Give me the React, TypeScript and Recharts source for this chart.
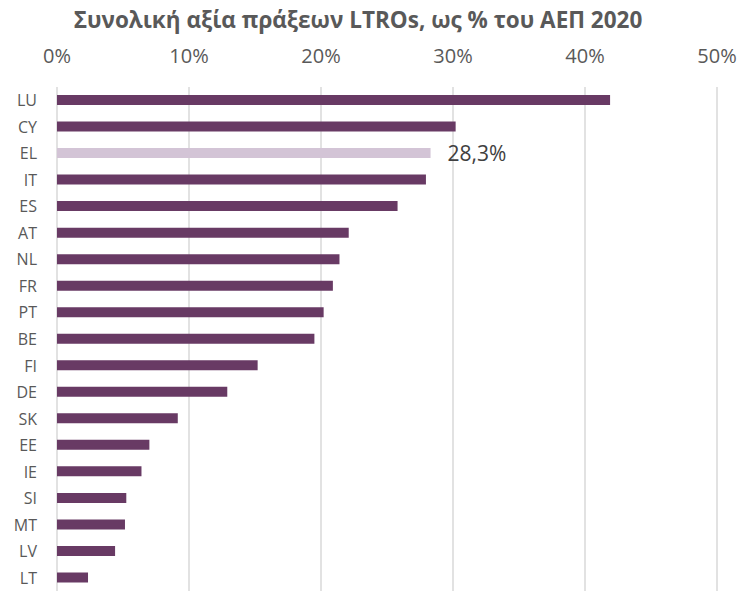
import { Bar, BarChart, CartesianGrid, Cell, LabelList, XAxis, YAxis } from "recharts"

const countries = ["LU", "CY", "EL", "IT", "ES", "AT", "NL", "FR", "PT", "BE", "FI", "DE", "SK", "EE", "IE", "SI", "MT", "LV", "LT"]
const ltroShare = [41.9, 30.2, 28.3, 27.95, 25.8, 22.1, 21.4, 20.9, 20.2, 19.5, 15.2, 12.9, 9.15, 7.0, 6.4, 5.25, 5.15, 4.4, 2.35]
const pctTicks = [0, 10, 20, 30, 40, 50]
const highlight = "EL"

const data = countries.map((country, i) => ({ country, value: ltroShare[i] }))

const textColor = "#595959"
const font = "'Open Sans', 'Noto Sans', sans-serif"

function TopTick(props: any) {
  const { x, y, payload } = props
  return (
    <text x={x} y={y} dy={-16} textAnchor="middle" fill={textColor} fontSize={20} fontFamily={font}>
      {payload.value}%
    </text>
  )
}

function CountryTick(props: any) {
  const { x, y, payload } = props
  return (
    <text x={x} y={y} dy={6} textAnchor="end" fill={textColor} fontSize={16} fontFamily={font}>
      {payload.value}
    </text>
  )
}

function HighlightLabel(props: any) {
  const { x, y, width, height, value, index } = props
  if (countries[index] !== highlight) return null
  return (
    <text x={x + width + 17} y={y + height / 2} dy={8} fill="#404040" fontSize={21} fontFamily={font}>
      {value.toFixed(1).replace(".", ",")}%
    </text>
  )
}

export default function App() {
  return (
    <div style={{ position: "absolute", left: 0, top: 0, width: 741, height: 591, background: "#fff" }}>
      <div
        style={{
          position: "absolute",
          left: 0,
          top: 4,
          width: 716,
          textAlign: "center",
          fontFamily: font,
          fontWeight: 700,
          fontSize: 22.5,
          color: textColor,
        }}
      >
        Συνολική αξία πράξεων LTROs, ως % του ΑΕΠ 2020
      </div>
      <BarChart
        width={741}
        height={591}
        data={data}
        layout="vertical"
        margin={{ top: 0, right: 24, bottom: 0, left: 0 }}
        barCategoryGap={8}
      >
        <CartesianGrid horizontal={false} stroke="#D9D9D9" strokeWidth={1.5} />
        <XAxis
          type="number"
          orientation="top"
          domain={[0, 50]}
          ticks={pctTicks}
          axisLine={false}
          tickLine={false}
          height={87}
          tick={<TopTick />}
        />
        <YAxis
          type="category"
          dataKey="country"
          width={57}
          axisLine={false}
          tickLine={false}
          tickMargin={14}
          interval={0}
          tick={<CountryTick />}
        />
        <Bar dataKey="value" barSize={10} isAnimationActive={false}>
          {data.map((d) => (
            <Cell key={d.country} fill={d.country === highlight ? "#D3C4D6" : "#683A64"} />
          ))}
          <LabelList dataKey="value" content={<HighlightLabel />} />
        </Bar>
      </BarChart>
    </div>
  )
}
